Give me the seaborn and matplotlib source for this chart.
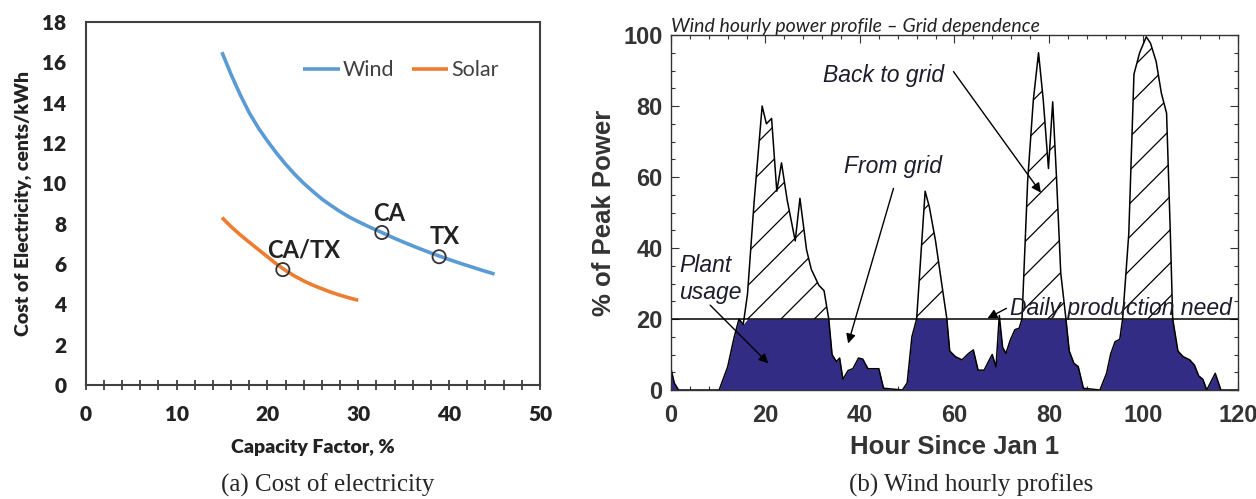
import matplotlib
matplotlib.use("Agg")
import numpy as np
import matplotlib.pyplot as plt
import seaborn as sns
from matplotlib.ticker import MultipleLocator

# (a) cost of electricity vs capacity factor
wind_cf = [15, 16, 17, 18, 19, 20, 21, 22, 23, 24, 25, 26, 27, 28, 29, 30,
           31.25, 32.5, 33.75, 35, 36.25, 37.5, 38.75, 40, 41.25, 42.5, 43.75, 45]
wind_cost = [16.5, 15.4, 14.4, 13.5, 12.75, 12.1, 11.5, 10.95, 10.45, 10.0, 9.6, 9.22, 8.9,
             8.6, 8.33, 8.1, 7.83, 7.58, 7.32, 7.08, 6.85, 6.63, 6.42, 6.22, 6.03, 5.85,
             5.67, 5.5]
solar_cf = [15, 16, 17, 18, 19, 20, 21, 22, 23, 24, 25, 26, 27, 28, 29, 30]
solar_cost = [8.3, 7.85, 7.45, 7.08, 6.72, 6.36, 6.0, 5.68, 5.4, 5.16, 4.95, 4.77, 4.6, 4.45,
              4.32, 4.2]
site_names = ["CA", "TX", "CA/TX"]
site_cf = [32.6, 38.9, 21.7]
site_cost = [7.56, 6.36, 5.72]

# (b) wind hourly power profile, % of peak
hours = [0, 0.7, 1.6, 10.2, 12, 13.4, 14.4, 15.3, 16.2, 17.6, 19.3, 20.2, 21.3, 22.4, 23.4,
         24.6, 26.3, 27.3, 28.7, 29.7, 31.3, 32.4, 33.4, 34.1, 35, 35.7, 36.4, 37.5, 38.5,
         39.7, 40.6, 41.7, 44, 45, 49, 50, 51, 52, 53.8, 54.7, 56, 57.3, 58.4, 59, 60.2,
         61.6, 63, 64, 65, 66.3, 67.2, 68, 68.8, 69.5, 70.2, 70.9, 71.8, 72.8, 73.7, 74.3,
         75.5, 76.7, 77.8, 78.8, 79.9, 80.8, 81.6, 82.5, 83.6, 84.3, 85.3, 86.2, 87.3, 90.8,
         92.2, 93.1, 94, 95, 95.6, 96.9, 98, 99.2, 100.6, 101.5, 102.7, 103.8, 104.9, 105.7,
         106.2, 107.3, 108.4, 109.8, 110.8, 111.7, 112.6, 113.4, 115.2, 116.4, 121]
power = [6, 2, 0, 0, 6.5, 15, 20, 18.5, 27, 53, 80, 75, 76.5, 56, 64,
         53.5, 42, 54, 39.5, 34, 29.5, 28, 20, 10, 8, 9, 3, 5.5, 6,
         9, 8.7, 6, 6, 0.5, 0, 2, 15, 20, 56, 51.5, 42, 30, 20, 11, 9.4,
         8.5, 10.3, 11.3, 5.6, 5.6, 8, 10, 6.5, 21, 12, 10.3, 14, 17, 17.4, 20,
         59, 81.7, 95, 81.7, 62.4, 81.2, 60, 33, 20, 11, 7.5, 6.6, 0.5, 0,
         4.7, 10.3, 13.6, 14.3, 20, 44, 89, 95, 99.5, 97.7, 92.5, 83.6, 78, 44,
         20, 11, 9.4, 8.5, 7, 4, 3, 0, 4.7, 0, 0]
need = 20

sns.set_style("white")
plt.rcParams["font.family"] = ["Liberation Sans", "DejaVu Sans"]
plt.rcParams["hatch.linewidth"] = 0.9
calibri = ["Lato", "DejaVu Sans"]

fig = plt.figure(figsize=(12.56, 4.99), dpi=100)
ax1 = fig.add_axes([0.0682, 0.2285, 0.3617, 0.7275])
ax2 = fig.add_axes([0.5342, 0.2184, 0.4514, 0.7114])

# ---- panel (a)
sns.lineplot(x=wind_cf, y=wind_cost, ax=ax1, color="#5b9bd5", lw=2.6, label="Wind",
             sort=False, estimator=None, solid_joinstyle="round", solid_capstyle="butt")
sns.lineplot(x=solar_cf, y=solar_cost, ax=ax1, color="#ed7d31", lw=2.6, label="Solar",
             sort=False, estimator=None, solid_joinstyle="round", solid_capstyle="butt")
sns.scatterplot(x=site_cf, y=site_cost, ax=ax1, s=90, facecolor="none",
                edgecolor="#333333", linewidth=1.3, zorder=5)
offsets = [(7, 19), (6, 20), (21, 20)]
for name, x, y, off in zip(site_names, site_cf, site_cost, offsets):
    ax1.annotate(name, (x, y), xytext=off, textcoords="offset pixels",
                 ha="center", va="center", fontsize=17, color="#222222", family=calibri,
                 fontweight="bold")

ax1.set_xlim(0, 50)
ax1.set_ylim(0, 18)
ax1.xaxis.set_major_locator(MultipleLocator(10))
ax1.xaxis.set_minor_locator(MultipleLocator(2))
ax1.yaxis.set_major_locator(MultipleLocator(2))
ax1.tick_params(axis="x", which="both", direction="inout", length=7, width=1.3,
                color="#404040", bottom=True, pad=11)
ax1.tick_params(axis="y", length=0, pad=14)
for lab in ax1.get_xticklabels() + ax1.get_yticklabels():
    lab.set_fontfamily(calibri)
    lab.set_fontweight("heavy")
    lab.set_fontsize(15)
    lab.set_color("#222222")
for sp in ax1.spines.values():
    sp.set_color("#404040")
    sp.set_linewidth(1.5)
ax1.set_xlabel("Capacity Factor, %", fontsize=14, fontweight="heavy",
               family=calibri, labelpad=11, color="#222222")
ax1.set_ylabel("Cost of Electricity, cents/kWh", fontsize=14, fontweight="heavy",
               family=calibri, labelpad=7, color="#222222")
leg = ax1.legend(loc="center left", bbox_to_anchor=(0.455, 0.867), ncol=2, frameon=False,
                 handlelength=1.7, handletextpad=0.15, columnspacing=0.8, borderpad=0,
                 prop={"family": calibri, "size": 15.5})
for t in leg.get_texts():
    t.set_color("#404040")

# ---- panel (b)
h = np.array(hours)
p = np.array(power)
ax2.fill_between(h, 0, np.minimum(p, need), color="#332c84", lw=0)
ax2.fill_between(h, need, p, where=p > need, interpolate=True, facecolor="none",
                 edgecolor="black", hatch="/", lw=0)
sns.lineplot(x=hours, y=power, ax=ax2, color="black", lw=1.1, sort=False, estimator=None)
ax2.axhline(need, color="black", lw=1.1)

ax2.set_xlim(0, 120)
ax2.set_ylim(0, 100)
ax2.xaxis.set_major_locator(MultipleLocator(20))
ax2.xaxis.set_minor_locator(MultipleLocator(4))
ax2.yaxis.set_major_locator(MultipleLocator(20))
ax2.yaxis.set_minor_locator(MultipleLocator(5))
ax2.tick_params(which="both", direction="in", top=True, right=True, bottom=True, left=True,
                color="#333333", width=0.8)
ax2.tick_params(which="major", length=6)
ax2.tick_params(which="minor", length=3)
ax2.tick_params(axis="x", pad=10)
ax2.tick_params(axis="y", pad=6)
for lab in ax2.get_xticklabels() + ax2.get_yticklabels():
    lab.set_fontweight("bold")
    lab.set_fontsize(17)
    lab.set_color("#333333")
for sp in ax2.spines.values():
    sp.set_color("#333333")
    sp.set_linewidth(1.0)
ax2.set_xlabel("Hour Since Jan 1", fontsize=18.5, fontweight="bold", color="#333333",
               labelpad=6)
ax2.set_ylabel("% of Peak Power", fontsize=18.5, fontweight="bold", color="#333333",
               labelpad=5)
ax2.set_title("Wind hourly power profile \u2013 Grid dependence", loc="left", pad=2,
              fontsize=14, style="italic", family=calibri, color="#222222")

note = dict(fontsize=16.5, style="italic", color="#1c1c2c")
arrow = dict(arrowstyle="-|>", color="black", lw=1.0, mutation_scale=14, shrinkA=0, shrinkB=0)
ax2.text(45, 88.7, "Back to grid", ha="center", va="center", **note)
ax2.annotate("", xy=(78.3, 55.6), xytext=(59.8, 89.7), arrowprops=arrow)
ax2.text(47, 62.9, "From grid", ha="center", va="center", **note)
ax2.annotate("", xy=(37.5, 13.1), xytext=(47.1, 56.8), arrowprops=arrow)
ax2.text(1.7, 31.3, "Plant\nusage", ha="left", va="center", **note)
ax2.annotate("", xy=(20.6, 7.5), xytext=(8.3, 23.9), arrowprops=arrow)
ax2.text(71.8, 23.0, "Daily production need", ha="left", va="center", **note)
ax2.annotate("", xy=(67.0, 20.2), xytext=(71.0, 23.0), arrowprops=arrow)

# captions
cap = dict(ha="center", va="center", fontsize=18, family=["Liberation Serif", "DejaVu Serif"])
fig.text(328 / 1256, 1 - 485 / 499, "(a) Cost of electricity", **cap)
fig.text(971 / 1256, 1 - 485 / 499, "(b) Wind hourly profiles", **cap)

fig.savefig("out.png", dpi=100)
